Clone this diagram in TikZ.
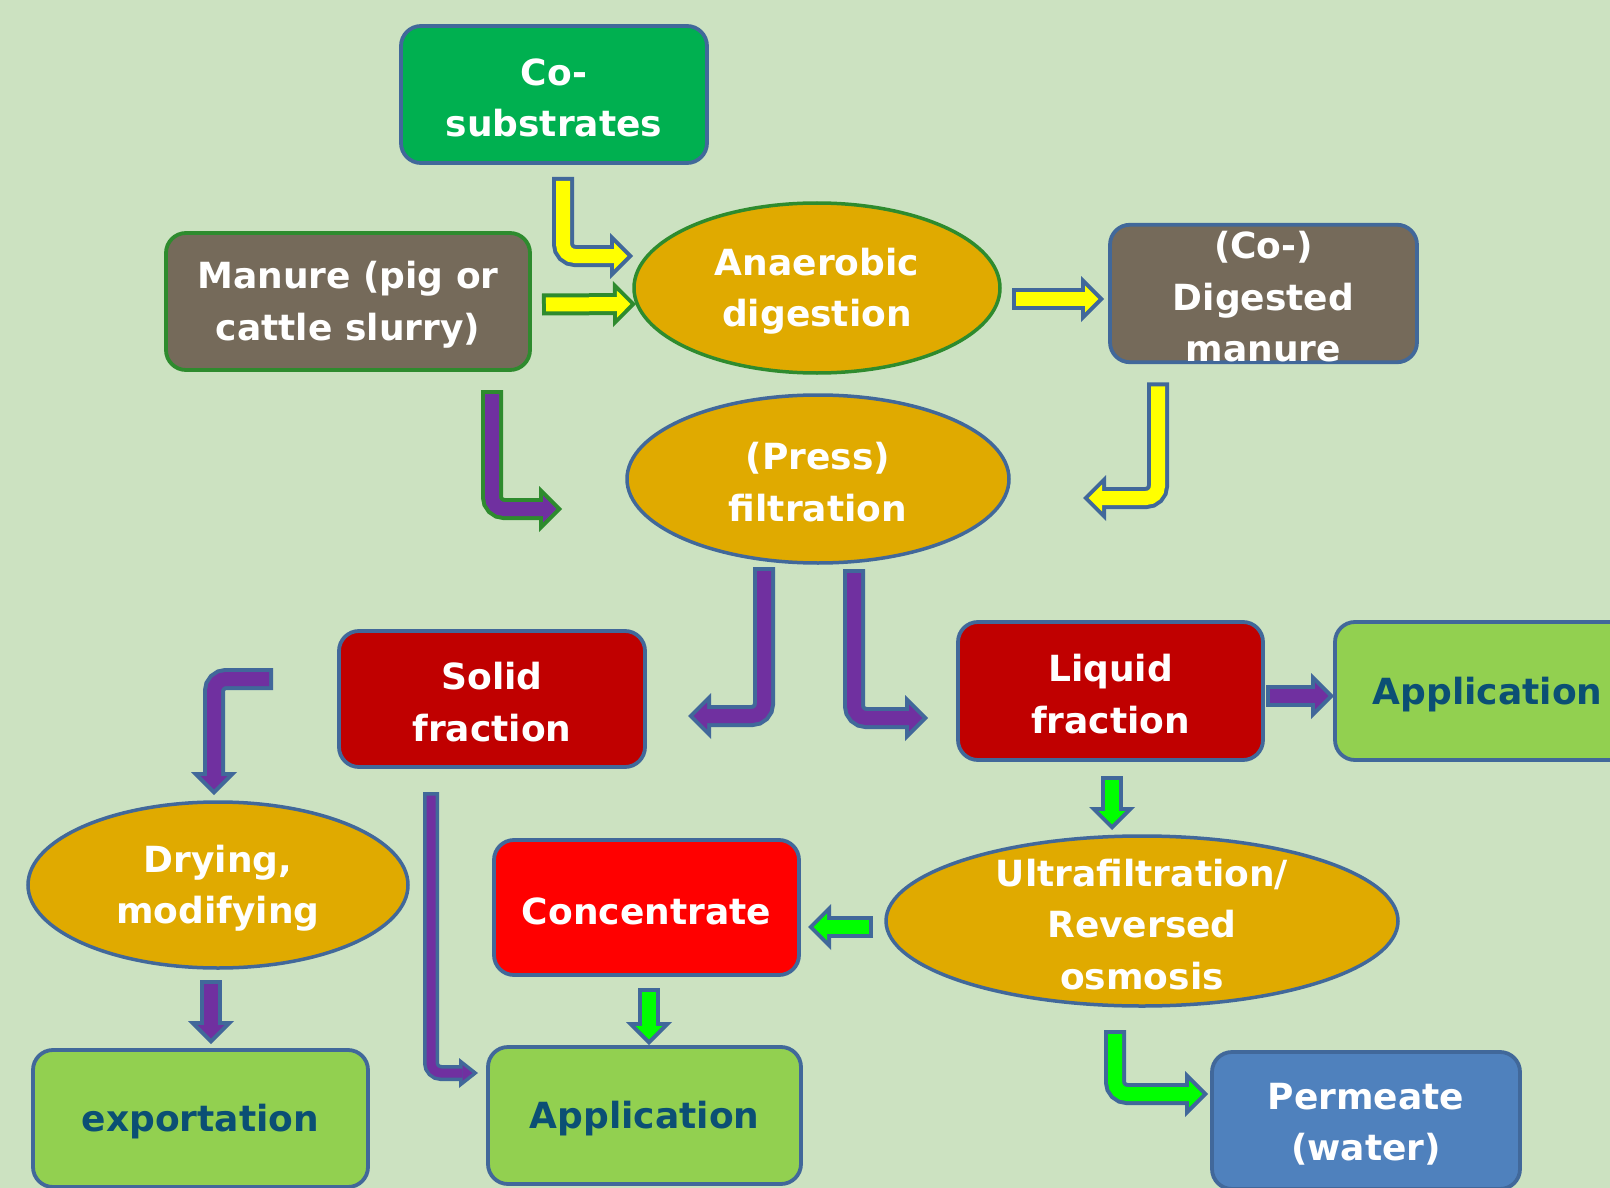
\documentclass[tikz,border=0pt]{standalone}
\usepackage{fontspec}
\setmainfont{DejaVu Sans}
\usetikzlibrary{arrows.meta, shapes.geometric, calc}
\definecolor{bgGreen}{HTML}{CCE2C1}
\definecolor{edgeBlue}{HTML}{41689A}
\definecolor{edgeGreen}{HTML}{2E8B2E}
\definecolor{coGreen}{HTML}{00B050}
\definecolor{mudBrown}{HTML}{756A5A}
\definecolor{procGold}{HTML}{E0AA00}
\definecolor{darkRed}{HTML}{C00000}
\definecolor{brightRed}{HTML}{FF0000}
\definecolor{appGreen}{HTML}{92D050}
\definecolor{appText}{HTML}{0B4F74}
\definecolor{waterBlue}{HTML}{4F81BD}
\definecolor{flowYellow}{HTML}{FFFF00}
\definecolor{flowPurple}{HTML}{7030A0}
\definecolor{flowGreen}{HTML}{00FF00}
\newcommand{\lift}{\rule{0pt}{34pt}}
\tikzset{
  lbl/.style     = {font=\fontsize{36}{51.5}\selectfont\bfseries, align=center, text=white},
  procbox/.style = {lbl, rectangle, rounded corners=20pt, line width=3.8pt, draw=edgeBlue,
                    inner sep=0pt, outer sep=0pt, minimum width=306pt, minimum height=137pt},
  procell/.style = {ellipse, line width=3.5pt, draw=edgeBlue, fill=procGold, inner sep=0pt, outer sep=0pt},
  wideout/.style = {line width=22pt, rounded corners=12pt,
                    -{Triangle[length=23pt, width=46pt, line width=0pt]}},
  widein/.style  = {line width=14pt, rounded corners=12pt, shorten <=4pt, shorten >=5.6pt,
                    -{Triangle[length=13.4pt, width=26.8pt, line width=0pt]}},
  thinout/.style = {line width=16pt, rounded corners=10pt,
                    -{Triangle[length=19pt, width=30pt, line width=0pt]}},
  thinin/.style  = {line width=9pt, rounded corners=10pt, shorten <=3.5pt, shorten >=5.6pt,
                    -{Triangle[length=9.9pt, width=15.6pt, line width=0pt]}},
}
% block arrow: [wide|thin] {fill} {edge} {path}
\newcommand{\blockflow}[4][wide]{%
  \draw[#1out, #3] #4;
  \draw[#1in, #2] #4;}

\begin{document}
\begin{tikzpicture}[x=1pt, y=-1pt]
  \useasboundingbox (0,0) rectangle (1610,1188);
  \clip (0,0) rectangle (1610,1188);
  \fill[bgGreen] (0,0) rectangle (1610,1188);

  % boxes
  \node[procbox, fill=coGreen] (cosub) at (554,94.5) {\lift Co-\\substrates};
  \node[procbox, fill=mudBrown, draw=edgeGreen, minimum width=364pt] (manure) at (348,301.5) {\lift Manure (pig or\\cattle slurry)};
  \node[procbox, fill=mudBrown, minimum width=307pt] (digested) at (1263.5,293.5) {\lift (Co-)\\Digested\\manure};
  \node[procbox, fill=darkRed, minimum height=136pt] (solid) at (492,699) {\lift Solid\\fraction};
  \node[procbox, fill=darkRed, minimum width=305pt, minimum height=138pt] (liquid) at (1110.5,691) {\lift Liquid\\fraction};
  \node[procbox, fill=appGreen, text=appText, minimum width=305pt, minimum height=138pt] (appR) at (1487.5,691) {\lift Application};
  \node[procbox, fill=brightRed, minimum width=305pt, minimum height=135pt] (conc) at (646.5,907.5) {\lift Concentrate};
  \node[procbox, fill=appGreen, text=appText, minimum width=335pt] (export) at (200.5,1118.5) {\lift exportation};
  \node[procbox, fill=appGreen, text=appText, minimum width=313pt] (appB) at (644.5,1115.5) {\lift Application};
  \node[procbox, fill=waterBlue, minimum width=308pt] (perm) at (1366,1120.5) {\lift Permeate\\(water)};

  % process ellipses
  \node[procell, draw=edgeGreen, minimum width=366pt, minimum height=170pt] (anaer) at (817,288) {};
  \node[lbl] (anaer-t) at (anaer) {\lift Anaerobic\\digestion};
  \node[procell, minimum width=382pt, minimum height=168pt] (press) at (818,479) {};
  \node[lbl] (press-t) at (press) {\lift (Press)\\filtration};
  \node[procell, minimum width=380pt, minimum height=166pt] (drying) at (218,885) {};
  \node[lbl] (drying-t) at (drying) {\lift Drying,\\modifying};
  \node[procell, minimum width=512pt, minimum height=170pt] (ultra) at (1142,921) {};
  \node[lbl] (ultra-t) at (ultra) {\lift Ultrafiltration/\\Reversed\\osmosis};

  % flows
  \blockflow{flowYellow}{edgeBlue}{([xshift=9pt,yshift=-14pt]cosub.south) |- ([xshift=-1pt,yshift=32pt]anaer.west)}
  \blockflow{flowYellow}{edgeGreen}{([xshift=12pt,yshift=-3pt]manure.east) -- ([xshift=2pt,yshift=-16pt]anaer.west)}
  \blockflow{flowYellow}{edgeBlue}{([xshift=12pt,yshift=-11pt]anaer.east) -- ([xshift=-6pt,yshift=-5.5pt]digested.west)}
  \blockflow{flowPurple}{edgeGreen}{([xshift=144pt,yshift=-20pt]manure.south) |- ([xshift=-65pt,yshift=-30pt]press.west)}
  \blockflow{flowYellow}{edgeBlue}{([xshift=-105.5pt,yshift=-20pt]digested.south) |- ([xshift=74pt,yshift=-19pt]press.east)}
  \blockflow{flowPurple}{edgeBlue}{([xshift=-54pt,yshift=-4pt]press.south) |- ([xshift=43pt,yshift=-17pt]solid.east)}
  \blockflow{flowPurple}{edgeBlue}{([xshift=36pt,yshift=-6pt]press.south) |- ([xshift=-30pt,yshift=-27pt]liquid.west)}
  \blockflow{flowPurple}{edgeBlue}{([xshift=3pt,yshift=-5pt]liquid.east) -- ([xshift=-1pt,yshift=-5pt]appR.west)}
  \blockflow{flowPurple}{edgeBlue}{([xshift=-66pt,yshift=20pt]solid.west) -| ([xshift=-4pt,yshift=7pt]drying.north)}
  \blockflow{flowPurple}{edgeBlue}{([xshift=-7pt,yshift=-12pt]drying.south) -- ([xshift=10.5pt,yshift=6pt]export.north)}
  \blockflow[thin]{flowPurple}{edgeBlue}{([xshift=-61pt,yshift=-25pt]solid.south) |- ([xshift=-10pt,yshift=42.5pt]appB.west)}
  \blockflow{flowGreen}{edgeBlue}{([xshift=1.5pt,yshift=-16pt]liquid.south) -- ([xshift=-30pt,yshift=6pt]ultra.north)}
  \blockflow{flowGreen}{edgeBlue}{([xshift=-13pt,yshift=-6pt]ultra.west) -- ([xshift=9pt,yshift=-19.5pt]conc.east)}
  \blockflow{flowGreen}{edgeBlue}{([xshift=2.5pt,yshift=-13pt]conc.south) -- ([xshift=4.5pt,yshift=2pt]appB.north)}
  \blockflow{flowGreen}{edgeBlue}{([xshift=-27pt,yshift=-24pt]ultra.south) |- ([xshift=-4pt,yshift=26.5pt]perm.west)}
\end{tikzpicture}
\end{document}
